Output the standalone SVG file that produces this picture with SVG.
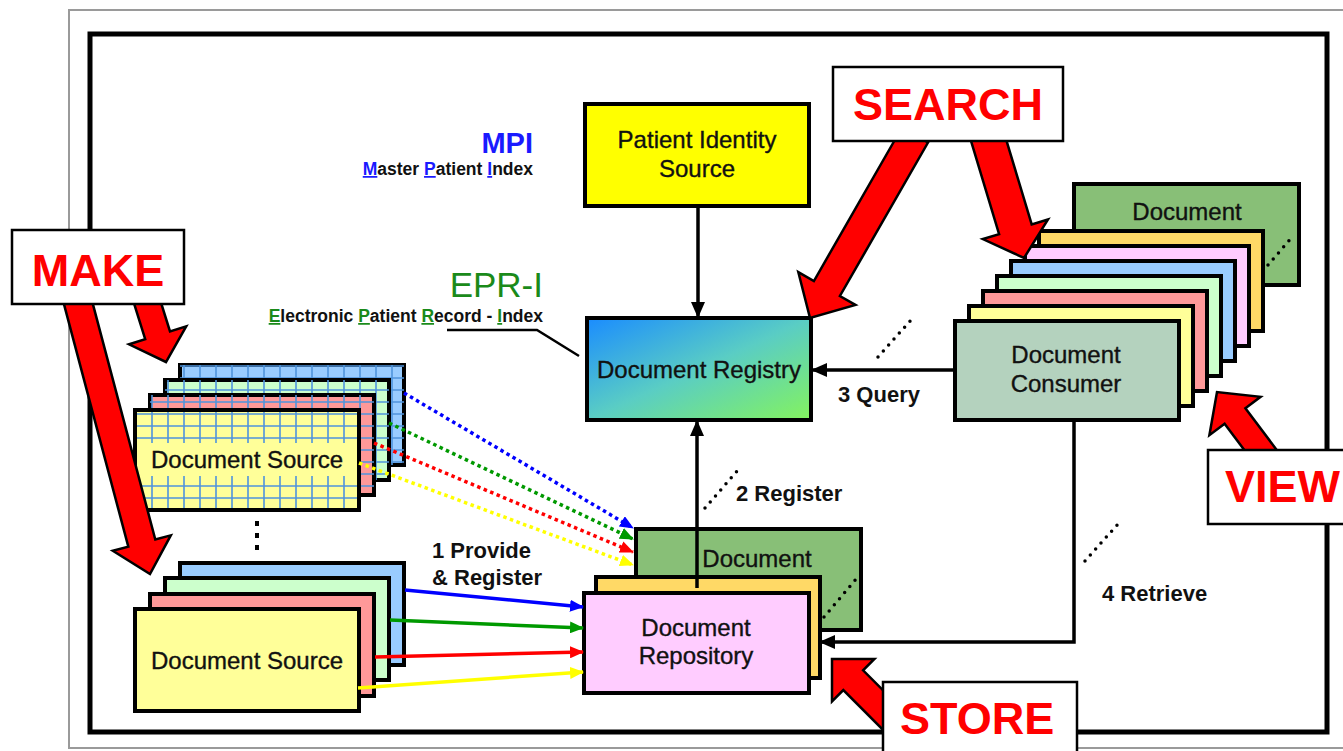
<svg xmlns="http://www.w3.org/2000/svg" width="1343" height="751" viewBox="0 0 1343 751">
<style>
  text { font-family: "Liberation Sans", Arial, sans-serif; }
  .box { stroke: #000; stroke-width: 4; }
  .lbl { font-size: 24px; fill: #111; text-anchor: middle; stroke: #111; stroke-width: 0.35; }
  .num { font-size: 22px; font-weight: bold; fill: #111; }
  .big { font-size: 45px; font-weight: bold; fill: #ff0000; }
  .tag { fill: #fff; stroke: #000; stroke-width: 2.5; }
  .red { fill: #ff0000; stroke: #000; stroke-width: 2.5; stroke-linejoin: miter; }
  .conn { stroke: #000; stroke-width: 3.5; fill: none; }
  .dots { stroke: #000; stroke-width: 3.5; stroke-linecap: round; stroke-dasharray: 0 8; fill: none; }
  .dl { stroke-width: 3.5; stroke-dasharray: 3.5 3.5; fill: none; }
  .sl { stroke-width: 3.5; fill: none; }
  .sub { font-size: 17.5px; font-weight: bold; fill: #111; text-anchor: end; }
</style>
<defs>
  <marker id="ah" markerUnits="userSpaceOnUse" markerWidth="16" markerHeight="14" viewBox="0 0 16 14" refX="15" refY="7" orient="auto">
    <path d="M0,0 L16,7 L0,14 z" fill="#000"/>
  </marker>
  <marker id="ahB" markerUnits="userSpaceOnUse" markerWidth="14" markerHeight="12" viewBox="0 0 14 12" refX="13" refY="6" orient="auto"><path d="M0,0 L14,6 L0,12 z" fill="#0000ff"/></marker>
  <marker id="ahG" markerUnits="userSpaceOnUse" markerWidth="14" markerHeight="12" viewBox="0 0 14 12" refX="13" refY="6" orient="auto"><path d="M0,0 L14,6 L0,12 z" fill="#009900"/></marker>
  <marker id="ahR" markerUnits="userSpaceOnUse" markerWidth="14" markerHeight="12" viewBox="0 0 14 12" refX="13" refY="6" orient="auto"><path d="M0,0 L14,6 L0,12 z" fill="#ff0000"/></marker>
  <marker id="ahY" markerUnits="userSpaceOnUse" markerWidth="14" markerHeight="12" viewBox="0 0 14 12" refX="13" refY="6" orient="auto"><path d="M0,0 L14,6 L0,12 z" fill="#ffff00"/></marker>
  <pattern id="grid" patternUnits="userSpaceOnUse" width="16" height="12">
    <path d="M8,0 V12 M0,6 H16" stroke="#4f94dc" stroke-width="1.6"/>
  </pattern>
  <linearGradient id="reg" x1="0" y1="0" x2="1" y2="1">
    <stop offset="0" stop-color="#1a8cff"/>
    <stop offset="0.5" stop-color="#5acdc4"/>
    <stop offset="1" stop-color="#84f35e"/>
  </linearGradient>
</defs>

<!-- frames -->
<rect x="69" y="10" width="1300" height="738" fill="#fff" stroke="#9a9a9a" stroke-width="2"/>
<rect x="90" y="34" width="1237" height="698" fill="#fff" stroke="#000" stroke-width="5"/>

<!-- MPI / EPR-I labels -->
<g id="mpi">
  <text x="533" y="153" font-size="29" font-weight="bold" fill="#1a1aff" text-anchor="end">MPI</text>
  <text x="533" y="175" class="sub"><tspan fill="#1a1aff" text-decoration="underline">M</tspan>aster <tspan fill="#1a1aff" text-decoration="underline">P</tspan>atient <tspan fill="#1a1aff" text-decoration="underline">I</tspan>ndex</text>
</g>
<g id="epri">
  <text x="543" y="297" font-size="35" fill="#1a8a1a" text-anchor="end">EPR-I</text>
  <text x="543" y="322" class="sub"><tspan fill="#1a8a1a" text-decoration="underline">E</tspan>lectronic <tspan fill="#1a8a1a" text-decoration="underline">P</tspan>atient <tspan fill="#1a8a1a" text-decoration="underline">R</tspan>ecord - <tspan fill="#1a8a1a" text-decoration="underline">I</tspan>ndex</text>
</g>

<!-- Patient Identity Source -->
<g id="pis">
  <rect x="585" y="104" width="224" height="102" fill="#ffff00" class="box"/>
  <text x="697" y="148" class="lbl" font-size="25">Patient Identity</text>
  <text x="697" y="177" class="lbl" font-size="25">Source</text>
</g>

<!-- Document Registry -->
<g id="registry">
  <rect x="587" y="318" width="224" height="102" fill="url(#reg)" class="box"/>
  <text x="699" y="378" class="lbl" font-size="25">Document Registry</text>
</g>

<!-- Document Source stack (top, grid) -->
<g id="source1">
  <rect x="180" y="365" width="224" height="100" fill="#99ccff" class="box"/>
  <rect x="180" y="365" width="224" height="100" fill="url(#grid)"/>
  <rect x="165" y="380" width="224" height="100" fill="#ccffcc" class="box"/>
  <rect x="165" y="380" width="224" height="100" fill="url(#grid)"/>
  <rect x="150" y="395" width="224" height="100" fill="#ff9999" class="box"/>
  <rect x="150" y="395" width="224" height="100" fill="url(#grid)"/>
  <rect x="135" y="410" width="224" height="100" fill="#ffff99" class="box"/>
  <rect x="137" y="412" width="220" height="96" fill="url(#grid)"/>
  <rect x="137" y="443" width="220" height="33" fill="#ffff99"/>
  <text x="247" y="468" class="lbl">Document Source</text>
</g>

<!-- Document Source stack (bottom) -->
<g id="source2">
  <rect x="180" y="563" width="224" height="102" fill="#99ccff" class="box"/>
  <rect x="165" y="578" width="224" height="102" fill="#ccffcc" class="box"/>
  <rect x="150" y="594" width="224" height="102" fill="#ff9999" class="box"/>
  <rect x="135" y="609" width="224" height="102" fill="#ffff99" class="box"/>
  <text x="247" y="669" class="lbl">Document Source</text>
</g>

<!-- Document Repository stack -->
<g id="repository">
  <rect x="636" y="529" width="225" height="101" fill="#88bf77" class="box"/>
  <text x="757" y="567" class="lbl">Document</text>
  <path d="M824,617 L857,578" class="dots"/>
  <rect x="596" y="577" width="224" height="101" fill="#ffd966" class="box"/>
  <rect x="584" y="593" width="225" height="100" fill="#ffccff" class="box"/>
  <text x="696" y="636" class="lbl">Document</text>
  <text x="696" y="664" class="lbl">Repository</text>
</g>

<!-- Document Consumer stack -->
<g id="consumer">
  <rect x="1074" y="184" width="225" height="101" fill="#88bf77" class="box"/>
  <text x="1187" y="220" class="lbl">Document</text>
  <path d="M1268,265 L1293,236" class="dots"/>
  <rect x="1039" y="231" width="224" height="100" fill="#ffd966" class="box"/>
  <rect x="1025" y="246" width="224" height="100" fill="#ffccff" class="box"/>
  <rect x="1011" y="261" width="224" height="100" fill="#99ccff" class="box"/>
  <rect x="997" y="276" width="224" height="100" fill="#ccffcc" class="box"/>
  <rect x="983" y="291" width="224" height="100" fill="#ff9999" class="box"/>
  <rect x="969" y="306" width="224" height="100" fill="#ffff99" class="box"/>
  <rect x="955" y="321" width="224" height="99" fill="#b4d2be" class="box"/>
  <text x="1066" y="363" class="lbl">Document</text>
  <text x="1066" y="392" class="lbl">Consumer</text>
</g>

<!-- connectors -->
<g id="connectors">
  <line x1="698" y1="206" x2="698" y2="317" class="conn" marker-end="url(#ah)"/>
  <line x1="697" y1="588" x2="697" y2="421" class="conn" marker-end="url(#ah)"/>
  <line x1="955" y1="370" x2="812" y2="370" class="conn" marker-end="url(#ah)"/>
  <polyline points="1074,420 1074,642 820,642" class="conn" marker-end="url(#ah)"/>
  <polyline points="447,330 537,330 579,356" stroke="#000" stroke-width="2.5" fill="none"/>

  <line x1="404" y1="393" x2="633" y2="528" stroke="#0000ff" class="dl" marker-end="url(#ahB)"/>
  <line x1="389" y1="423" x2="633" y2="539" stroke="#009900" class="dl" marker-end="url(#ahG)"/>
  <line x1="374" y1="443" x2="633" y2="552" stroke="#ff0000" class="dl" marker-end="url(#ahR)"/>
  <line x1="359" y1="463" x2="633" y2="565" stroke="#ffff00" class="dl" marker-end="url(#ahY)"/>

  <line x1="405" y1="590" x2="583" y2="607" stroke="#0000ff" class="sl" marker-end="url(#ahB)"/>
  <line x1="390" y1="620" x2="583" y2="628" stroke="#009900" class="sl" marker-end="url(#ahG)"/>
  <line x1="375" y1="657" x2="583" y2="652" stroke="#ff0000" class="sl" marker-end="url(#ahR)"/>
  <line x1="358" y1="688" x2="583" y2="672" stroke="#ffff00" class="sl" marker-end="url(#ahY)"/>

  <path d="M257,521 V552" stroke="#000" stroke-width="4" stroke-dasharray="5 7" fill="none"/>
  <path d="M705,508 L738,470" class="dots"/>
  <path d="M878,357 L911,320" class="dots"/>
  <path d="M1085,561 L1118,524" class="dots"/>

  <text x="432" y="558" class="num">1 Provide</text>
  <text x="432" y="585" class="num">&amp; Register</text>
  <text x="736" y="501" class="num">2 Register</text>
  <text x="838" y="402" class="num">3 Query</text>
  <text x="1102" y="601" class="num">4 Retrieve</text>
</g>

<!-- red block arrows -->
<g id="make-arrows">
  <polygon class="red" points="62.5,298.6 128.3,546.7 112.8,550.8 150,574 170.8,535.4 155.3,539.5 89.5,291.4"/>
  <polygon class="red" points="132.6,298.9 145.2,339.2 129,344.3 166,362 186.2,326.3 170,331.4 157.4,291.1"/>
</g>
<g id="search-arrows">
  <polygon class="red" points="902,127.5 813.9,281 798.3,272.1 810,318 855.5,304.9 839.9,296 928,142.5"/>
  <polygon class="red" points="970.7,139.9 999.1,234.2 982.8,239.1 1024,258 1048,219.5 1031.7,224.4 1003.3,130.1"/>
</g>
<g id="view-arrow">
  <polygon class="red" points="1278.4,452.2 1245.4,408.2 1260.6,396.8 1217,392 1209.4,435.2 1224.6,423.8 1257.6,467.8"/>
</g>
<g id="store-arrow">
  <polygon class="red" points="909.9,717.1 863.1,670.3 874.4,659 832,659 832,701.4 843.3,690.1 890.1,736.9"/>
</g>

<!-- labels -->
<g id="make">
  <rect x="12" y="230" width="172" height="74" class="tag"/>
  <text x="98" y="286" class="big" text-anchor="middle">MAKE</text>
</g>
<g id="search">
  <rect x="833" y="67" width="230" height="74" class="tag"/>
  <text x="948" y="120" class="big" text-anchor="middle">SEARCH</text>
</g>
<g id="view">
  <rect x="1208" y="450" width="160" height="74" class="tag"/>
  <text x="1225" y="502" class="big">VIEW</text>
</g>
<g id="store">
  <rect x="883" y="682" width="194" height="90" class="tag"/>
  <text x="900" y="734" class="big">STORE</text>
</g>
</svg>
